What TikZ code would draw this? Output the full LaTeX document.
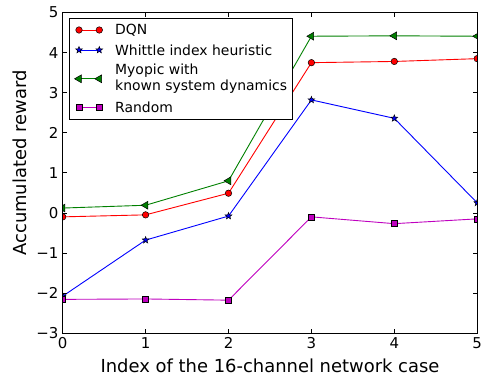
\documentclass[tikz,border=0pt]{standalone}
\usepackage{fontspec}
\setmainfont{DejaVu Sans}
\usepackage{tikz}
\usepackage{xcolor}
\usetikzlibrary{shapes.geometric, positioning}
\definecolor{cDQN}{RGB}{255,0,0}
\definecolor{cWhittle}{RGB}{0,0,255}
\definecolor{cMyopic}{RGB}{0,128,0}
\definecolor{cRandom}{RGB}{191,0,191}
\tikzset{
	% markers
	mDQN/.style    ={circle, draw=black, fill=cDQN, minimum size=6.5bp, inner sep=0pt, line width=0.5bp},
	mWhittle/.style={star, star points=5, star point ratio=2.4, draw=black, fill=cWhittle, minimum size=7bp, inner sep=0pt, line width=0.5bp},
	mMyopic/.style ={regular polygon, regular polygon sides=3, shape border rotate=90, draw=black, fill=cMyopic, minimum size=9bp, inner sep=0pt, line width=0.5bp},
	mRandom/.style ={rectangle, draw=black, fill=cRandom, minimum size=6bp, inner sep=0pt, line width=0.5bp},
	series/.style  ={line width=0.9bp},
	tick/.style    ={line width=0.7bp},
	ticklbl/.style ={font=\fontsize{15}{18}\selectfont, inner sep=0pt},
	leglbl/.style  ={font=\fontsize{14}{16}\selectfont, inner sep=0pt, anchor=west, align=left},
}
\begin{document}
\begin{tikzpicture}[x=1bp, y=1bp]
	\useasboundingbox (0,0) rectangle (487,379);
	% data axes: x in cases, y in reward
	\begin{scope}[shift={(62.7,166.15)}, x=82.9bp, y=40.05bp]
		\coordinate (ll) at (0,-3);
		\coordinate (ur) at (5,5);
		\begin{scope}
			\clip (ll) rectangle (ur);
			\foreach \s/\c/\vals in {
				DQN/cDQN/{-0.1,-0.05,0.49,3.75,3.78,3.85},
				Whittle/cWhittle/{-2.08,-0.68,-0.08,2.82,2.36,0.25},
				Myopic/cMyopic/{0.12,0.19,0.8,4.41,4.42,4.41},
				Random/cRandom/{-2.16,-2.15,-2.18,-0.1,-0.27,-0.15}} {
				\foreach \v [count=\n from 0] in \vals {
					\coordinate (\s\n) at (\n,\v);
				}
				\draw[series, \c] (\s0) -- (\s1) -- (\s2) -- (\s3) -- (\s4) -- (\s5);
				\foreach \n in {0,...,5} {
					\node[m\s] (p\s\n) at (\s\n) {};
				}
			}
		\end{scope}
		% ticks and tick labels
		\foreach \x in {0,...,5} {
			\draw[tick] (\x,-3) -- ++(0,4bp);
			\draw[tick] (\x,5) -- ++(0,-4bp);
			\node[ticklbl, anchor=north] (xl\x) at ([yshift=-4bp]\x,-3) {\x};
		}
		\foreach \y/\t in {-3/−3,-2/−2,-1/−1,0/0,1/1,2/2,3/3,4/4,5/5} {
			\draw[tick] (0,\y) -- ++(4bp,0);
			\draw[tick] (5,\y) -- ++(-4bp,0);
			\node[ticklbl, anchor=east] (yl\y) at ([xshift=-4bp]0,\y) {\t};
		}
		\draw[line width=0.9bp] (ll) rectangle (ur);
	\end{scope}
	% axis labels
	\node[font=\fontsize{18}{21}\selectfont, inner sep=0pt] (xlabel) at (270,13) {Index of the 16-channel network case};
	\node[font=\fontsize{18}{21}\selectfont, inner sep=0pt, rotate=90] (ylabel) at (20,216) {Accumulated reward};
	% legend
	\node[draw, fill=white, line width=0.7bp, minimum width=222.4bp, minimum height=101.7bp, anchor=south west, inner sep=0pt] (legend) at (69.3,259) {};
	\foreach \s/\c/\yy/\l in {
		DQN/cDQN/349/{DQN},
		Whittle/cWhittle/329/{Whittle index heuristic},
		Myopic/cMyopic/300.2/{Myopic with\\known system dynamics},
		Random/cRandom/271.7/{Random}} {
		\coordinate (a\s) at (79,\yy);
		\coordinate (b\s) at (99.3,\yy);
		\draw[series, \c] (a\s) -- (b\s);
		\node[m\s] (ma\s) at (a\s) {};
		\node[m\s] (mb\s) at (b\s) {};
		\node[leglbl] (t\s) at (115,\yy) {\l};
	}
\end{tikzpicture}
\end{document}
